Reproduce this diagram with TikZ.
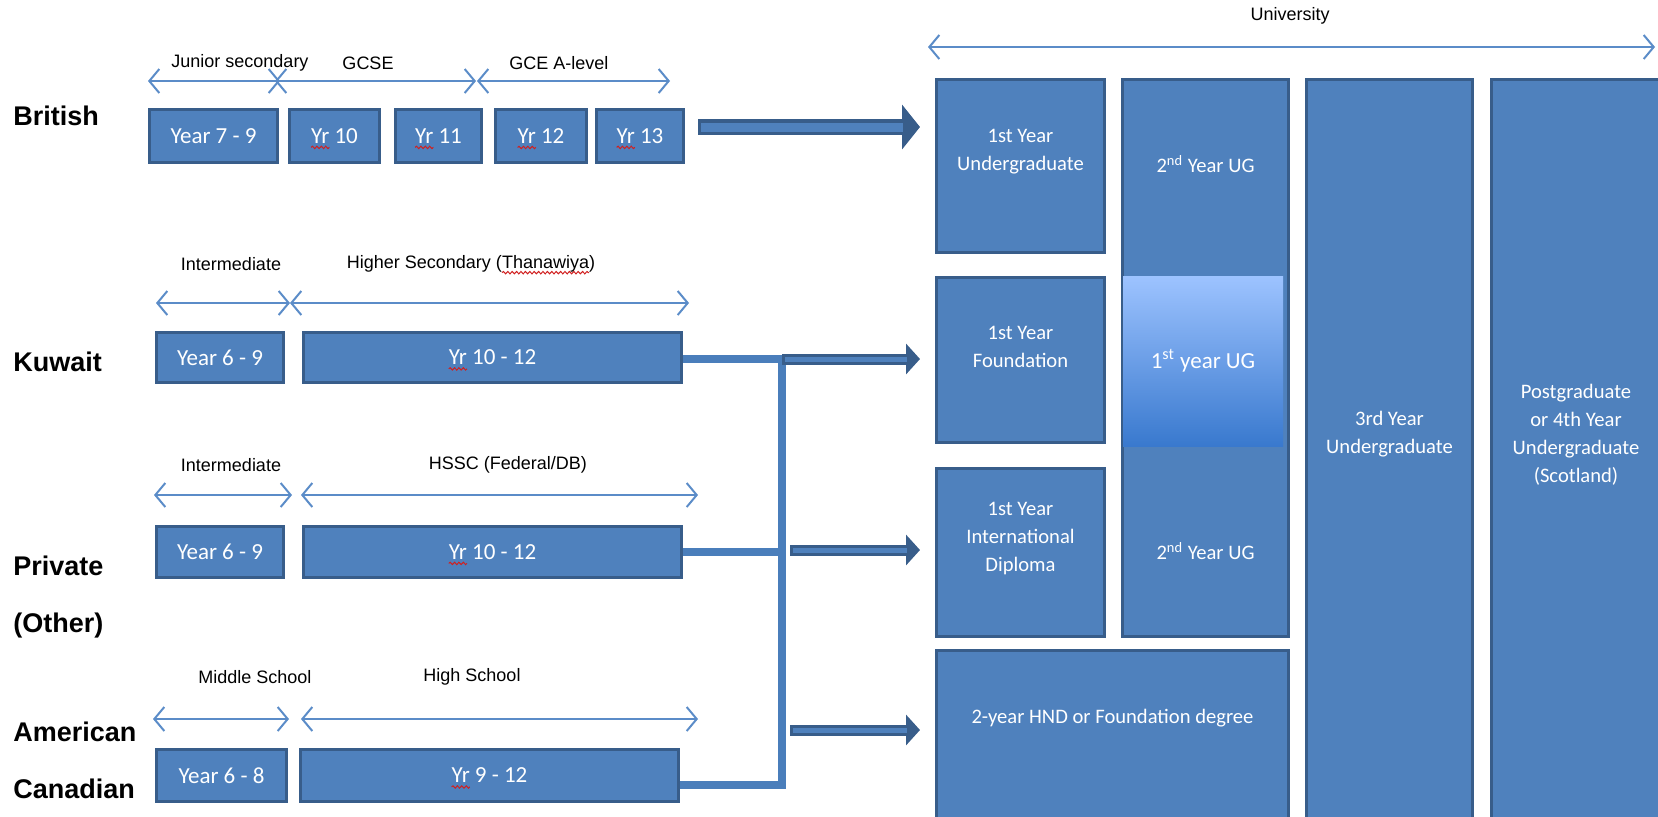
\documentclass[tikz,border=0pt]{standalone}
\usepackage{fontspec}
\setmainfont{Carlito}
\newfontfamily\arialfont{Liberation Sans}
\usetikzlibrary{arrows.meta,decorations.pathmorphing}
\definecolor{boxfill}{HTML}{4F81BD}
\definecolor{boxedge}{HTML}{385D8A}
\definecolor{spanblue}{HTML}{5B8CC8}
\definecolor{feedblue}{HTML}{4A7EBB}
\definecolor{gradtop}{HTML}{9DC3FF}
\definecolor{gradbot}{HTML}{3979CE}
\definecolor{spellred}{HTML}{D02020}

% word marked by the spell checker
\newcommand\spellmark[1]{\tikz[baseline=(sm.base)]{\node[draw=none, fill=none, minimum width=0pt, minimum height=0pt,
    inner sep=0pt, outer sep=0pt, anchor=base] (sm) {#1};
  \draw[overlay, draw=spellred, line width=0.5pt, decorate, decoration={snake, amplitude=0.6pt, segment length=2.2pt}]
    ([yshift=-2pt]sm.base west) -- ([yshift=-2pt]sm.base east);}}

\begin{document}
\begin{tikzpicture}[x=0.5pt, y=-0.5pt]
% Define styles
\tikzset{
  yearbox/.style={rectangle, draw=boxedge, fill=boxfill, line width=1.5pt, text=white, inner sep=0pt, anchor=north west, font=\fontsize{11.5}{13}\selectfont},
  unibox/.style={yearbox, font=\fontsize{10.3}{14}\selectfont},
  unitext/.style={text=white, align=center, font=\fontsize{10.3}{14}\selectfont},
  country/.style={anchor=west, inner sep=0pt, font=\arialfont\bfseries\fontsize{13.5}{16}\selectfont},
  spanlabel/.style={font=\arialfont\fontsize{9}{11}\selectfont},
  dimarrow/.style={draw=spanblue, line width=1pt, {Straight Barb[length=5pt,width=12pt]}-{Straight Barb[length=5pt,width=12pt]}},
  feed/.style={draw=feedblue, line width=4pt},
  blockarrow/.style={draw=boxedge, line width=5.5pt, -{Triangle[length=7pt,width=15pt]}, shorten >=7.5pt,
    postaction={draw=boxfill, line width=2.5pt, -, shorten >=14pt, shorten <=1.5pt}},
  bigblockarrow/.style={draw=boxedge, line width=8pt, -{Triangle[length=9pt,width=22pt]}, shorten >=7.5pt,
    postaction={draw=boxfill, line width=4.5pt, -, shorten >=16pt, shorten <=1.5pt}}
}
\useasboundingbox (0,0) rectangle (1658,816);

% Country labels
\node[country] (brit) at (13,116) {British};
\node[country] (kuw) at (13,362) {Kuwait};
\node[country] (priv) at (13,566) {Private};
\node[country] (other) at (13,626) {(Other)};
\node[country] (amer) at (13,732) {American};
\node[country] (canad) at (13,789) {Canadian};

% School years
\node[yearbox, minimum width=64pt, minimum height=26.5pt] (y79) at (148,108) {Year 7 - 9};
\node[yearbox, minimum width=45pt, minimum height=26.5pt] (yr10) at (288,108) {\spellmark{Yr} 10};
\node[yearbox, minimum width=43pt, minimum height=26.5pt] (yr11) at (394,108) {\spellmark{Yr} 11};
\node[yearbox, minimum width=45.5pt, minimum height=26.5pt] (yr12) at (494,108) {\spellmark{Yr} 12};
\node[yearbox, minimum width=43.5pt, minimum height=26.5pt] (yr13) at (595,108) {\spellmark{Yr} 13};

\node[yearbox, minimum width=63.5pt, minimum height=25pt] (kw69) at (155,331) {Year 6 - 9};
\node[yearbox, minimum width=189pt, minimum height=25pt] (kw1012) at (302,331) {\spellmark{Yr} 10 - 12};

\node[yearbox, minimum width=63.5pt, minimum height=25.5pt] (pr69) at (155,525) {Year 6 - 9};
\node[yearbox, minimum width=189pt, minimum height=25.5pt] (pr1012) at (302,525) {\spellmark{Yr} 10 - 12};

\node[yearbox, minimum width=65pt, minimum height=26pt] (am68) at (155,748) {Year 6 - 8};
\node[yearbox, minimum width=189pt, minimum height=26pt] (am912) at (299,748) {\spellmark{Yr} 9 - 12};

% Spans and their labels
\foreach \nm/\xa/\xb/\yy in {js/148/280/81, gcse/275/476/81, alev/477/670/81,
    kwI/156/290/303, kwH/290/689/303, prI/154/292/495, prH/301/698/495,
    amM/153/289/719, amH/301/698/719, uni/928/1655/47}
{
  \coordinate (\nm-a) at (\xa,\yy);
  \coordinate (\nm-b) at (\xb,\yy);
  \draw[dimarrow] (\nm-a) -- (\nm-b);
}
\node[spanlabel] (jslab) at (240,63) {Junior secondary};
\node[spanlabel] (gcselab) at (368,63) {GCSE};
\node[spanlabel] (alevlab) at (559,63) {GCE A-level};
\node[spanlabel] (kwIlab) at (231,264) {Intermediate};
\node[spanlabel] (kwHlab) at (471,264) {Higher Secondary (\spellmark{Thanawiya})};
\node[spanlabel] (prIlab) at (231,465) {Intermediate};
\node[spanlabel] (prHlab) at (508,465) {HSSC (Federal/DB)};
\node[spanlabel] (amMlab) at (255,677) {Middle School};
\node[spanlabel] (amHlab) at (472,677) {High School};
\node[spanlabel] (unilab) at (1290,16) {University};

% University
\node[unibox, minimum width=84pt, minimum height=86.5pt] (ug1) at (935,78) {};
\node[unibox, minimum width=83pt, minimum height=278.5pt] (ug2) at (1121,78) {};
\node[unibox, minimum width=83pt, minimum height=371pt] (ug3) at (1305,78) {};
\node[unibox, minimum width=84.5pt, minimum height=371pt] (pg) at (1490,78) {};
\node[unibox, minimum width=84pt, minimum height=82.5pt] (fnd) at (935,276) {};
\node[unibox, minimum width=84pt, minimum height=84pt] (dip) at (935,467) {};
\node[unibox, minimum width=176pt, minimum height=85.5pt] (hnd) at (935,649) {};
\node[unibox, draw=none, outer sep=0pt, top color=gradtop, bottom color=gradbot,
  minimum width=80pt, minimum height=85pt, font=\fontsize{11.5}{14}\selectfont] (grad) at (1123,276) {1\textsuperscript{st} year UG};

\node[unitext] (ug1txt) at ([yshift=7pt]ug1.center) {1st Year\\Undergraduate};
\node[unitext] (ug2top) at ([yshift=-43pt]ug2.north) {2\textsuperscript{nd} Year UG};
\node[unitext] (ug2bot) at ([yshift=43.5pt]ug2.south) {2\textsuperscript{nd} Year UG};
\node[unitext] (fndtxt) at ([yshift=6.5pt]fnd.center) {1st Year\\Foundation};
\node[unitext] (diptxt) at ([yshift=7pt]dip.center) {1st Year\\International\\Diploma};
\node[unitext] (ug3txt) at ([yshift=-178pt]ug3.north) {3rd Year\\Undergraduate};
\node[unitext] (pgtxt) at ([yshift=-178.5pt]pg.north) {Postgraduate\\or 4th Year\\Undergraduate\\(Scotland)};
\node[unitext] (hndtxt) at ([yshift=-34.5pt]hnd.north) {2-year HND or Foundation degree};

% Feed lines
\coordinate (busTop) at (782,359);
\coordinate (busBot) at (782,785);
\draw[feed] (kw1012.east |- busTop) -- (busTop) -- (busBot) -- (busBot -| am912.east);
\draw[feed] (pr1012.east) -- (pr1012.east -| busTop);

% Block arrows
\coordinate (britS) at ([xshift=6.5pt,yshift=4.5pt]yr13.east);
\coordinate (privS) at (790,550);
\coordinate (amerS) at (790,730);
\draw[bigblockarrow] (britS) -- (britS -| ug1.west);
\draw[blockarrow] (busTop) -- (busTop -| fnd.west);
\draw[blockarrow] (privS) -- (privS -| dip.west);
\draw[blockarrow] (amerS) -- (amerS -| hnd.west);
\end{tikzpicture}
\end{document}
